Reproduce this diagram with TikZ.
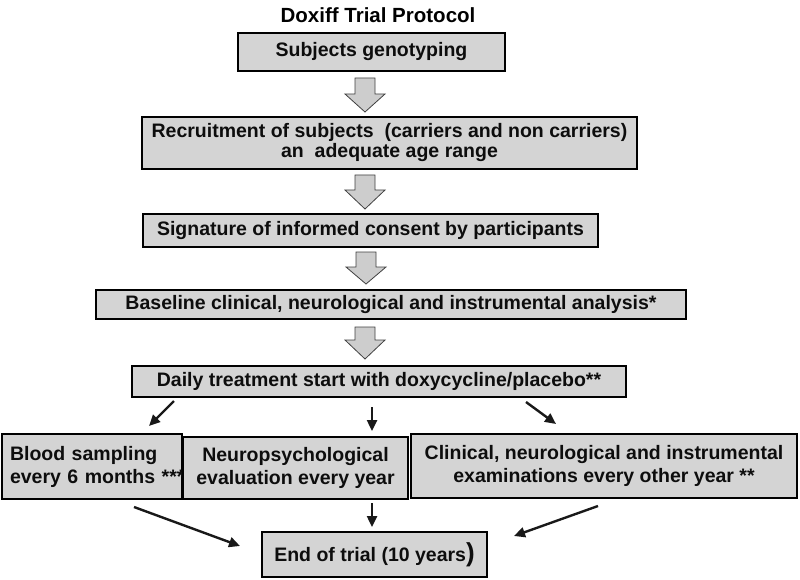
\documentclass[tikz,border=0pt]{standalone}
\usepackage{fontspec}
\setmainfont{Liberation Sans}
\usetikzlibrary{arrows.meta,calc}
\definecolor{boxgray}{HTML}{D4D4D4}
\definecolor{arrgray}{HTML}{CDCDCD}
\newcommand\blockarrow[4]{%
  \draw[blockarr] (#1-10,#2) -- (#1+10,#2) -- (#1+10,#3) -- (#1+20,#3) -- (#1,#4) -- (#1-20,#3) -- (#1-10,#3) -- cycle;}
\begin{document}
\begin{tikzpicture}[x=1pt,y=-1pt,
  box/.style={draw=black,line width=2pt,fill=boxgray,inner sep=0pt,
    font=\bfseries\fontsize{19.5}{23}\selectfont,align=center,text=black!95},
  blockarr/.style={draw=black!75,line width=0.8pt,fill=arrgray},
  flow/.style={line width=2.4pt,draw=black!90,-{Triangle[length=11pt,width=10pt]}}]
\useasboundingbox (0,0) rectangle (800,580);

\node[font=\bfseries\fontsize{20.5}{24}\selectfont] (title) at (378,15) {Doxiff Trial Protocol};

\node[box,minimum width=267,minimum height=38] (b1) at (371.5,52) {Subjects genotyping};
\node[box,minimum width=495,minimum height=52,font=\bfseries\fontsize{19.5}{20}\selectfont] (b2) at (389.5,143)
  {Recruitment of subjects\ \ (carriers and non carriers)\\an\ \ adequate age range};
\node[box,minimum width=455,minimum height=33] (b3) at (370.5,230.5) {Signature of informed consent by participants};
\node[box,minimum width=590,minimum height=29] (b4) at (391,304.5) {Baseline clinical, neurological and instrumental analysis*};
\node[box,minimum width=494,minimum height=31] (b5) at (379,381.5) {Daily treatment start with doxycycline/placebo**};
\node[box,minimum width=180,minimum height=65,align=left,text width=178] (b6a) at (92,466.5)
  {\hspace*{7pt}\mbox{Blood sampling}\\\hspace*{7pt}\mbox{every 6 months ***}};
\node[box,minimum width=225,minimum height=62] (b6b) at (295.5,468) {Neuropsychological\\evaluation every year};
\node[box,minimum width=386,minimum height=64] (b6c) at (604,466) {Clinical, neurological and instrumental\\examinations every other year **};
\node[box,minimum width=225,minimum height=45] (b7) at (374.5,554.5) {End of trial (10 years{\fontsize{26}{26}\selectfont)}};

\blockarrow{365}{78}{94}{112}
\blockarrow{365}{175}{190}{209}
\blockarrow{366}{252}{267}{284}
\blockarrow{365}{327}{340}{359}

\coordinate (t1s) at (174,401); \coordinate (t1e) at (149,426);
\coordinate (t2s) at (372,407); \coordinate (t2e) at (372,431);
\coordinate (t3s) at (526,402); \coordinate (t3e) at (556,424);
\coordinate (t4s) at (134,507); \coordinate (t4e) at (240,546);
\coordinate (t5s) at (372,503); \coordinate (t5e) at (372,527);
\coordinate (t6s) at (598,506); \coordinate (t6e) at (514,536);
\draw[flow] (t1s) -- (t1e);
\draw[flow] (t2s) -- (t2e);
\draw[flow] (t3s) -- (t3e);
\draw[flow] (t4s) -- (t4e);
\draw[flow] (t5s) -- (t5e);
\draw[flow] (t6s) -- (t6e);
\end{tikzpicture}
\end{document}
